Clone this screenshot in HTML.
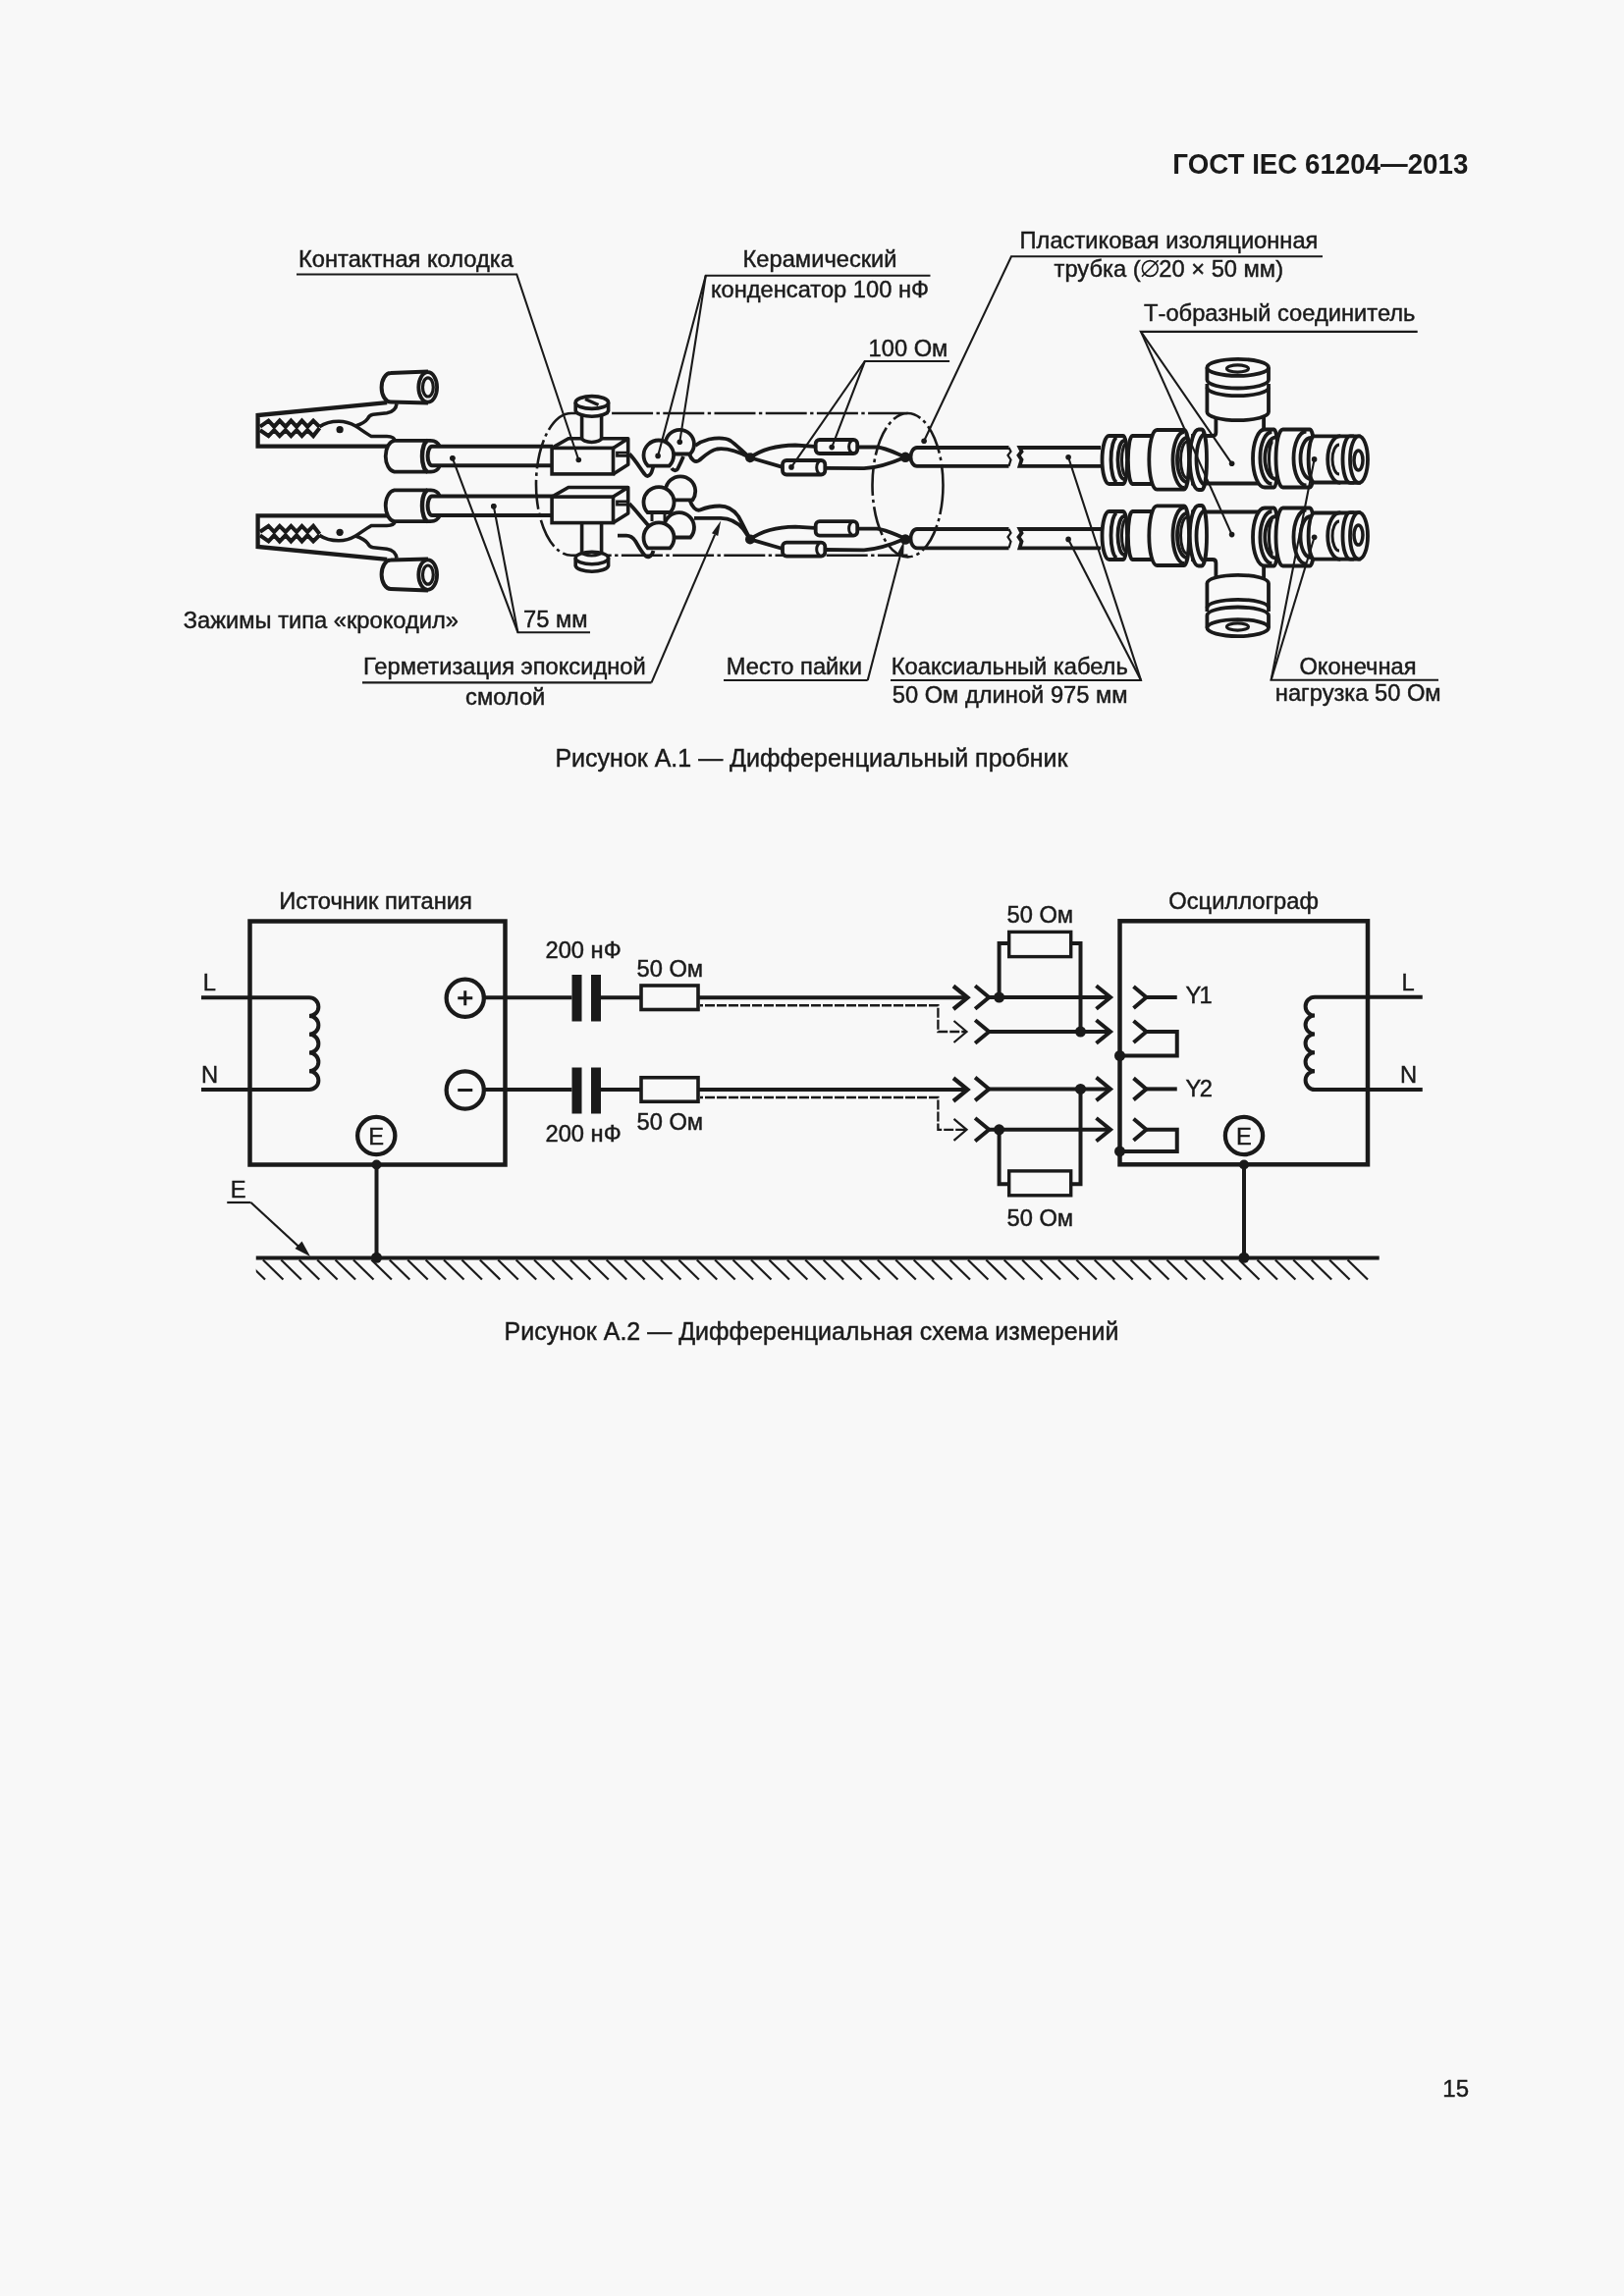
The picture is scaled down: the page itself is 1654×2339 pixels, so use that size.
<!DOCTYPE html>
<html><head><meta charset="utf-8"><style>
html,body{margin:0;padding:0;background:#f8f8f8;}
svg{display:block;}
text{font-family:"Liberation Sans",sans-serif;stroke:#1a1a1a;stroke-width:0.45px;}
svg{will-change:transform;}
</style></head><body>
<svg width="1654" height="2339" viewBox="0 0 1654 2339">
<rect width="1654" height="2339" fill="#f8f8f8"/>
<g fill="#1a1a1a" font-family="Liberation Sans">
<text transform="matrix(1 0 0 1.04 1495.3 176.6)" font-size="27.7" text-anchor="end" font-weight="bold" style="stroke:none">ГОСТ IEC 61204—2013</text>
<text transform="matrix(1 0 0 1.02 1496 2136)" font-size="24" text-anchor="end">15</text>
</g>
<g id="fig2" stroke="#1a1a1a" fill="none" stroke-linecap="butt"><rect x="254.5" y="938.5" width="260" height="248" stroke-width="4.5"/><rect x="1140.5" y="938.3" width="252.5" height="248" stroke-width="4.5"/><line x1="205" y1="1016.25" x2="315" y2="1016.25" stroke-width="4"/><line x1="205" y1="1110" x2="315" y2="1110" stroke-width="4"/><path d="M315,1016.25 A9.375,9.375 0 0 1 315,1035.00 A9.375,9.375 0 0 1 315,1053.75 A9.375,9.375 0 0 1 315,1072.50 A9.375,9.375 0 0 1 315,1091.25 A9.375,9.375 0 0 1 315,1110.00" stroke-width="4" fill="none"/><line x1="1339" y1="1015.75" x2="1448.75" y2="1015.75" stroke-width="4"/><line x1="1339" y1="1110" x2="1448.75" y2="1110" stroke-width="4"/><path d="M1339,1015.75 A9.425,9.425 0 0 0 1339,1034.60 A9.425,9.425 0 0 0 1339,1053.45 A9.425,9.425 0 0 0 1339,1072.30 A9.425,9.425 0 0 0 1339,1091.15 A9.425,9.425 0 0 0 1339,1110.00" stroke-width="4" fill="none"/><circle cx="473.75" cy="1016.75" r="19.1" stroke-width="4.3"/><circle cx="473.75" cy="1110.5" r="19.1" stroke-width="4.3"/><line x1="466.25" y1="1016.75" x2="481.25" y2="1016.75" stroke-width="3"/><line x1="473.75" y1="1009.25" x2="473.75" y2="1024.25" stroke-width="3"/><line x1="466.25" y1="1110.5" x2="481.25" y2="1110.5" stroke-width="3"/><circle cx="383.25" cy="1157" r="19.1" stroke-width="4.3"/><circle cx="1267" cy="1157" r="19.1" stroke-width="4.3"/><line x1="492.3" y1="1016.25" x2="582.5" y2="1016.25" stroke-width="4"/><rect x="582.5" y="993" width="10" height="47.5" fill="#1a1a1a" stroke="none"/><rect x="602" y="993" width="10" height="47.5" fill="#1a1a1a" stroke="none"/><line x1="612" y1="1016.25" x2="653" y2="1016.25" stroke-width="4"/><rect x="653" y="1004.0" width="58" height="24.5" stroke-width="3.6"/><line x1="711" y1="1016.25" x2="985" y2="1016.25" stroke-width="4"/><polyline points="971,1004.5 985.5,1016.25 971,1028.0" stroke-width="4.2" fill="none"/><polyline points="713,1024.25 955.4,1024.25 955.4,1051.0 983,1051.0" stroke-width="2.3" fill="none" stroke-dasharray="10,2" stroke-dashoffset="7"/><polyline points="971.5,1040.0 984.5,1051.0 971.5,1062.0" stroke-width="2.2" fill="none"/><line x1="492.3" y1="1110" x2="582.5" y2="1110" stroke-width="4"/><rect x="582.5" y="1087.5" width="10" height="47.0" fill="#1a1a1a" stroke="none"/><rect x="602" y="1087.5" width="10" height="47.0" fill="#1a1a1a" stroke="none"/><line x1="612" y1="1110" x2="653" y2="1110" stroke-width="4"/><rect x="653" y="1097.75" width="58" height="24.5" stroke-width="3.6"/><line x1="711" y1="1110" x2="985" y2="1110" stroke-width="4"/><polyline points="971,1098.25 985.5,1110 971,1121.75" stroke-width="4.2" fill="none"/><polyline points="713,1118 955.4,1118 955.4,1150.8 983,1150.8" stroke-width="2.3" fill="none" stroke-dasharray="10,2" stroke-dashoffset="7"/><polyline points="971.5,1139.8 984.5,1150.8 971.5,1161.8" stroke-width="2.2" fill="none"/><polyline points="993.1,1004.25 1007.3,1016.0 993.1,1027.75" stroke-width="4" fill="none"/><line x1="1007.3" y1="1016.0" x2="1130" y2="1016.0" stroke-width="4"/><polyline points="1116.5,1004.25 1131,1016.0 1116.5,1027.75" stroke-width="4" fill="none"/><polyline points="1154.5,1005.0 1167.5,1016.0 1154.5,1027.0" stroke-width="4" fill="none"/><polyline points="993.1,1039.25 1007.3,1051.0 993.1,1062.75" stroke-width="4" fill="none"/><line x1="1007.3" y1="1051.0" x2="1130" y2="1051.0" stroke-width="4"/><polyline points="1116.5,1039.25 1131,1051.0 1116.5,1062.75" stroke-width="4" fill="none"/><polyline points="1154.5,1040.0 1167.5,1051.0 1154.5,1062.0" stroke-width="4" fill="none"/><polyline points="993.1,1097.65 1007.3,1109.4 993.1,1121.15" stroke-width="4" fill="none"/><line x1="1007.3" y1="1109.4" x2="1130" y2="1109.4" stroke-width="4"/><polyline points="1116.5,1097.65 1131,1109.4 1116.5,1121.15" stroke-width="4" fill="none"/><polyline points="1154.5,1098.4 1167.5,1109.4 1154.5,1120.4" stroke-width="4" fill="none"/><polyline points="993.1,1139.05 1007.3,1150.8 993.1,1162.55" stroke-width="4" fill="none"/><line x1="1007.3" y1="1150.8" x2="1130" y2="1150.8" stroke-width="4"/><polyline points="1116.5,1139.05 1131,1150.8 1116.5,1162.55" stroke-width="4" fill="none"/><polyline points="1154.5,1139.8 1167.5,1150.8 1154.5,1161.8" stroke-width="4" fill="none"/><line x1="1167.5" y1="1016.0" x2="1198.75" y2="1016.0" stroke-width="4"/><line x1="1167.5" y1="1109.4" x2="1198.75" y2="1109.4" stroke-width="4"/><polyline points="1167.5,1051.0 1198.75,1051.0 1198.75,1075.5 1140.5,1075.5" stroke-width="4" fill="none"/><polyline points="1167.5,1150.8 1198.75,1150.8 1198.75,1172.9 1140.5,1172.9" stroke-width="4" fill="none"/><circle cx="1140.5" cy="1075.5" r="5.5" fill="#1a1a1a" stroke="none"/><circle cx="1140.5" cy="1172.9" r="5.5" fill="#1a1a1a" stroke="none"/><rect x="1027.7" y="949.4" width="63" height="25.2" stroke-width="3.4"/><rect x="1027.7" y="1192.9" width="63" height="24.9" stroke-width="3.4"/><polyline points="1017.6,1016.0 1017.6,960.9 1027.7,960.9" stroke-width="4" fill="none"/><polyline points="1090.7,960.9 1100.5,960.9 1100.5,1051.0" stroke-width="4" fill="none"/><polyline points="1100.5,1109.4 1100.5,1206.2 1090.7,1206.2" stroke-width="4" fill="none"/><polyline points="1027.7,1206.2 1017.6,1206.2 1017.6,1150.8" stroke-width="4" fill="none"/><circle cx="1017.6" cy="1016.0" r="5.5" fill="#1a1a1a" stroke="none"/><circle cx="1100.5" cy="1051.0" r="5.5" fill="#1a1a1a" stroke="none"/><circle cx="1100.5" cy="1109.4" r="5.5" fill="#1a1a1a" stroke="none"/><circle cx="1017.6" cy="1150.8" r="5.5" fill="#1a1a1a" stroke="none"/><line x1="383.5" y1="1186.5" x2="383.5" y2="1281.25" stroke-width="4"/><line x1="1267" y1="1186.5" x2="1267" y2="1281.25" stroke-width="4"/><circle cx="383.5" cy="1186.5" r="5" fill="#1a1a1a" stroke="none"/><circle cx="383.5" cy="1281.25" r="5.5" fill="#1a1a1a" stroke="none"/><circle cx="1267" cy="1186.5" r="5" fill="#1a1a1a" stroke="none"/><circle cx="1267" cy="1281.25" r="5.5" fill="#1a1a1a" stroke="none"/><line x1="260.75" y1="1281.6" x2="1404.7" y2="1281.6" stroke-width="4"/><clipPath id="hc"><rect x="260.75" y="1282" width="1150" height="25"/></clipPath><g clip-path="url(#hc)"><line x1="249.5" y1="1283.5" x2="270.0" y2="1303.5" stroke-width="2.2"/><line x1="267.91" y1="1283.5" x2="288.41" y2="1303.5" stroke-width="2.2"/><line x1="286.32" y1="1283.5" x2="306.82" y2="1303.5" stroke-width="2.2"/><line x1="304.73" y1="1283.5" x2="325.23" y2="1303.5" stroke-width="2.2"/><line x1="323.14" y1="1283.5" x2="343.64" y2="1303.5" stroke-width="2.2"/><line x1="341.55" y1="1283.5" x2="362.05" y2="1303.5" stroke-width="2.2"/><line x1="359.96" y1="1283.5" x2="380.46" y2="1303.5" stroke-width="2.2"/><line x1="378.37" y1="1283.5" x2="398.87" y2="1303.5" stroke-width="2.2"/><line x1="396.78" y1="1283.5" x2="417.28" y2="1303.5" stroke-width="2.2"/><line x1="415.19" y1="1283.5" x2="435.69" y2="1303.5" stroke-width="2.2"/><line x1="433.6" y1="1283.5" x2="454.1" y2="1303.5" stroke-width="2.2"/><line x1="452.01" y1="1283.5" x2="472.51" y2="1303.5" stroke-width="2.2"/><line x1="470.42" y1="1283.5" x2="490.92" y2="1303.5" stroke-width="2.2"/><line x1="488.83" y1="1283.5" x2="509.33" y2="1303.5" stroke-width="2.2"/><line x1="507.24" y1="1283.5" x2="527.74" y2="1303.5" stroke-width="2.2"/><line x1="525.65" y1="1283.5" x2="546.15" y2="1303.5" stroke-width="2.2"/><line x1="544.06" y1="1283.5" x2="564.56" y2="1303.5" stroke-width="2.2"/><line x1="562.47" y1="1283.5" x2="582.97" y2="1303.5" stroke-width="2.2"/><line x1="580.88" y1="1283.5" x2="601.38" y2="1303.5" stroke-width="2.2"/><line x1="599.29" y1="1283.5" x2="619.79" y2="1303.5" stroke-width="2.2"/><line x1="617.7" y1="1283.5" x2="638.2" y2="1303.5" stroke-width="2.2"/><line x1="636.11" y1="1283.5" x2="656.61" y2="1303.5" stroke-width="2.2"/><line x1="654.52" y1="1283.5" x2="675.02" y2="1303.5" stroke-width="2.2"/><line x1="672.93" y1="1283.5" x2="693.43" y2="1303.5" stroke-width="2.2"/><line x1="691.34" y1="1283.5" x2="711.84" y2="1303.5" stroke-width="2.2"/><line x1="709.75" y1="1283.5" x2="730.25" y2="1303.5" stroke-width="2.2"/><line x1="728.16" y1="1283.5" x2="748.66" y2="1303.5" stroke-width="2.2"/><line x1="746.57" y1="1283.5" x2="767.07" y2="1303.5" stroke-width="2.2"/><line x1="764.98" y1="1283.5" x2="785.48" y2="1303.5" stroke-width="2.2"/><line x1="783.39" y1="1283.5" x2="803.89" y2="1303.5" stroke-width="2.2"/><line x1="801.8" y1="1283.5" x2="822.3" y2="1303.5" stroke-width="2.2"/><line x1="820.21" y1="1283.5" x2="840.71" y2="1303.5" stroke-width="2.2"/><line x1="838.62" y1="1283.5" x2="859.12" y2="1303.5" stroke-width="2.2"/><line x1="857.03" y1="1283.5" x2="877.53" y2="1303.5" stroke-width="2.2"/><line x1="875.44" y1="1283.5" x2="895.94" y2="1303.5" stroke-width="2.2"/><line x1="893.85" y1="1283.5" x2="914.35" y2="1303.5" stroke-width="2.2"/><line x1="912.26" y1="1283.5" x2="932.76" y2="1303.5" stroke-width="2.2"/><line x1="930.67" y1="1283.5" x2="951.17" y2="1303.5" stroke-width="2.2"/><line x1="949.08" y1="1283.5" x2="969.58" y2="1303.5" stroke-width="2.2"/><line x1="967.49" y1="1283.5" x2="987.99" y2="1303.5" stroke-width="2.2"/><line x1="985.9" y1="1283.5" x2="1006.4" y2="1303.5" stroke-width="2.2"/><line x1="1004.31" y1="1283.5" x2="1024.81" y2="1303.5" stroke-width="2.2"/><line x1="1022.72" y1="1283.5" x2="1043.22" y2="1303.5" stroke-width="2.2"/><line x1="1041.13" y1="1283.5" x2="1061.63" y2="1303.5" stroke-width="2.2"/><line x1="1059.54" y1="1283.5" x2="1080.04" y2="1303.5" stroke-width="2.2"/><line x1="1077.95" y1="1283.5" x2="1098.45" y2="1303.5" stroke-width="2.2"/><line x1="1096.36" y1="1283.5" x2="1116.86" y2="1303.5" stroke-width="2.2"/><line x1="1114.77" y1="1283.5" x2="1135.27" y2="1303.5" stroke-width="2.2"/><line x1="1133.18" y1="1283.5" x2="1153.68" y2="1303.5" stroke-width="2.2"/><line x1="1151.59" y1="1283.5" x2="1172.09" y2="1303.5" stroke-width="2.2"/><line x1="1170.0" y1="1283.5" x2="1190.5" y2="1303.5" stroke-width="2.2"/><line x1="1188.41" y1="1283.5" x2="1208.91" y2="1303.5" stroke-width="2.2"/><line x1="1206.82" y1="1283.5" x2="1227.32" y2="1303.5" stroke-width="2.2"/><line x1="1225.23" y1="1283.5" x2="1245.73" y2="1303.5" stroke-width="2.2"/><line x1="1243.64" y1="1283.5" x2="1264.14" y2="1303.5" stroke-width="2.2"/><line x1="1262.05" y1="1283.5" x2="1282.55" y2="1303.5" stroke-width="2.2"/><line x1="1280.46" y1="1283.5" x2="1300.96" y2="1303.5" stroke-width="2.2"/><line x1="1298.87" y1="1283.5" x2="1319.37" y2="1303.5" stroke-width="2.2"/><line x1="1317.28" y1="1283.5" x2="1337.78" y2="1303.5" stroke-width="2.2"/><line x1="1335.69" y1="1283.5" x2="1356.19" y2="1303.5" stroke-width="2.2"/><line x1="1354.1" y1="1283.5" x2="1374.6" y2="1303.5" stroke-width="2.2"/><line x1="1372.51" y1="1283.5" x2="1393.01" y2="1303.5" stroke-width="2.2"/></g><line x1="231.25" y1="1225" x2="255.5" y2="1225" stroke-width="2.2"/><line x1="255.5" y1="1225" x2="306" y2="1271.5" stroke-width="2.2"/><path d="M316,1280 L300.5,1272 L307.5,1264.5 Z" fill="#1a1a1a" stroke="none"/></g><g fill="#1a1a1a" font-family="Liberation Sans"><text transform="matrix(1 0 0 1.02 284.3 926.25)" font-size="23.7">Источник питания</text><text transform="matrix(1 0 0 1.02 1190.3 926.25)" font-size="23.7">Осциллограф</text><text transform="matrix(1 0 0 1.02 206.8 1008.75)" font-size="23.7">L</text><text transform="matrix(1 0 0 1.02 205.0 1102.5)" font-size="23.7">N</text><text transform="matrix(1 0 0 1.02 1427.5 1008.75)" font-size="23.7">L</text><text transform="matrix(1 0 0 1.02 1426.0 1102.5)" font-size="23.7">N</text><text transform="matrix(1 0 0 1.02 555.5 975.75)" font-size="23.7">200 нФ</text><text transform="matrix(1 0 0 1.02 648.5 994.5)" font-size="23.7">50 Ом</text><text transform="matrix(1 0 0 1.02 648.5 1150.75)" font-size="23.7">50 Ом</text><text transform="matrix(1 0 0 1.02 555.5 1162.5)" font-size="23.7">200 нФ</text><text transform="matrix(1 0 0 1.02 1025.5 940.1)" font-size="23.7">50 Ом</text><text transform="matrix(1 0 0 1.02 1025.5 1249.2)" font-size="23.7">50 Ом</text><text transform="matrix(1 0 0 1.02 1207.5 1022)" font-size="23.7" letter-spacing="-1.8">Y1</text><text transform="matrix(1 0 0 1.02 1207.5 1117.3)" font-size="23.7" letter-spacing="-1.5">Y2</text><text transform="matrix(1 0 0 1.02 383.25 1165.5)" font-size="23.7" text-anchor="middle">E</text><text transform="matrix(1 0 0 1.02 1267 1165.5)" font-size="23.7" text-anchor="middle">E</text><text transform="matrix(1 0 0 1.02 234.8 1219.5)" font-size="23.7">E</text><text transform="matrix(1 0 0 1.02 513.5 1364.5)" font-size="25">Рисунок А.2 — Дифференциальная схема измерений</text></g><g stroke="#1a1a1a" fill="none">
<path d="M582,421.0 L924.5,421.0" stroke-width="2.6" stroke-dasharray="42,3.4,3.4,3.4" stroke-dashoffset="11.1" fill="none"/>
<path d="M582,565.8 L924.5,565.8" stroke-width="2.6" stroke-dasharray="42,3.4,3.4,3.4" stroke-dashoffset="1.3" fill="none"/>
<path d="M582,421.0 A36,72.39999999999998 0 0 0 582,565.8" stroke-width="2.6" stroke-dasharray="30,4,3.4,4" fill="none"/>
<ellipse cx="924.5" cy="494.2" rx="36" ry="73.19999999999997" stroke-width="2.6" stroke-dasharray="30,4,3.4,4" fill="none"/>
<path d="M394.2,410.2 L262.6,423 L262.6,454.6 L396,454.6" stroke-width="4.3" stroke-linejoin="miter" fill="none"/>
<polyline points="264.9,434.7 273.5,428.6 279.2,434.7 284.8,428.6 290.8,434.7 296.4,428.6 302.1,434.7 307.5,428.6 313.2,434.7 319.1,428.6 325.3,434.7" stroke-width="4.1" fill="none" stroke-linejoin="miter"/>
<polyline points="264.9,438.2 273.5,444.1 279.2,438.2 284.8,444.1 290.8,438.2 296.4,444.1 302.1,438.2 307.5,444.1 313.2,438.2 319.1,444.1 325.5,436" stroke-width="4.1" fill="none" stroke-linejoin="miter"/>
<path d="M325.3,434.7 C332,430 338,429.2 345,429.2 C352,429.2 357,431 362.1,434 C367,437 372,441 378.2,444.5 L394,444.5 C399,444.5 402,446.5 402.5,449.5" stroke-width="3.6" fill="none"/>

<path d="M362.1,434 C368,432 372,430 374.5,426.5 C376,423.5 377,422.6 380,422.3 L394,420.8 C400,420 403.5,416 404,411.2" stroke-width="3.6" fill="none"/>
<circle cx="346.1" cy="437.7" r="3.6" stroke="none" fill="#1a1a1a"/>
<path d="M436,378.4 L397.9,380 A9.3,14.7 0 0 0 397.9,409.4 L436,410.6" stroke-width="4" fill="none"/>
<ellipse cx="435.7" cy="394.4" rx="9.4" ry="15.2" stroke-width="3.8" fill="none"/>
<ellipse cx="435.9" cy="394.4" rx="5.4" ry="9.6" stroke-width="3.2" fill="none"/>
<path d="M439,448.8 L401.6,448.8 A10,16 0 0 0 401.6,480.6 L439,480.6" stroke-width="3.8" fill="none"/>
<path d="M439,448.8 C443,449 446,451 447.5,454 M447.5,475.5 C446,478.5 443,480.5 439,480.6" stroke-width="3.8" fill="none"/>
<path d="M435.5,449 A6,15.8 0 0 0 435.5,480.5" stroke-width="4.4" fill="none"/>
<g transform="translate(0,980) scale(1,-1)"><path d="M394.2,410.2 L262.6,423 L262.6,454.6 L396,454.6" stroke-width="4.3" stroke-linejoin="miter" fill="none"/>
<polyline points="264.9,434.7 273.5,428.6 279.2,434.7 284.8,428.6 290.8,434.7 296.4,428.6 302.1,434.7 307.5,428.6 313.2,434.7 319.1,428.6 325.3,434.7" stroke-width="4.1" fill="none" stroke-linejoin="miter"/>
<polyline points="264.9,438.2 273.5,444.1 279.2,438.2 284.8,444.1 290.8,438.2 296.4,444.1 302.1,438.2 307.5,444.1 313.2,438.2 319.1,444.1 325.5,436" stroke-width="4.1" fill="none" stroke-linejoin="miter"/>
<path d="M325.3,434.7 C332,430 338,429.2 345,429.2 C352,429.2 357,431 362.1,434 C367,437 372,441 378.2,444.5 L394,444.5 C399,444.5 402,446.5 402.5,449.5" stroke-width="3.6" fill="none"/>

<path d="M362.1,434 C368,432 372,430 374.5,426.5 C376,423.5 377,422.6 380,422.3 L394,420.8 C400,420 403.5,416 404,411.2" stroke-width="3.6" fill="none"/>
<circle cx="346.1" cy="437.7" r="3.6" stroke="none" fill="#1a1a1a"/>
<path d="M436,378.4 L397.9,380 A9.3,14.7 0 0 0 397.9,409.4 L436,410.6" stroke-width="4" fill="none"/>
<ellipse cx="435.7" cy="394.4" rx="9.4" ry="15.2" stroke-width="3.8" fill="none"/>
<ellipse cx="435.9" cy="394.4" rx="5.4" ry="9.6" stroke-width="3.2" fill="none"/>
<path d="M439,448.8 L401.6,448.8 A10,16 0 0 0 401.6,480.6 L439,480.6" stroke-width="3.8" fill="none"/>
<path d="M439,448.8 C443,449 446,451 447.5,454 M447.5,475.5 C446,478.5 443,480.5 439,480.6" stroke-width="3.8" fill="none"/>
<path d="M435.5,449 A6,15.8 0 0 0 435.5,480.5" stroke-width="4.4" fill="none"/></g>
<path d="M563,454.8 L440,454.8 A4.4,9.699999999999989 0 0 0 440,474.2 L563,474.2" stroke-width="4" fill="none"/>
<path d="M563,505.6 L440,505.6 A4.4,9.699999999999989 0 0 0 440,525.0 L563,525.0" stroke-width="4" fill="none"/>
<circle cx="460.9" cy="466.8" r="2.6" fill="#1a1a1a" stroke="none"/>
<circle cx="502.8" cy="515.7" r="2.6" fill="#1a1a1a" stroke="none"/>
<rect x="562.1" y="456.4" width="62.4" height="26.5" stroke-width="3.6" fill="#f8f8f8"/>
<path d="M562.1,456.4 L578.9,446.79999999999995 L639.7,446.79999999999995 L624.5,456.4 M639.7,446.79999999999995 L639.7,473.29999999999995 L624.5,482.9" stroke-width="3.6" fill="none" stroke-linejoin="round"/>
<path d="M639.7,461.2 L628.5,461.2 L628.5,464.4 L639.7,464.4" stroke-width="2.8" fill="none"/>
<rect x="562.1" y="506.09999999999997" width="62.4" height="26.500000000000057" stroke-width="3.6" fill="#f8f8f8"/>
<path d="M562.1,506.09999999999997 L578.9,496.49999999999994 L639.7,496.49999999999994 L624.5,506.09999999999997 M639.7,496.49999999999994 L639.7,523.0 L624.5,532.6" stroke-width="3.6" fill="none" stroke-linejoin="round"/>
<path d="M639.7,510.9 L628.5,510.9 L628.5,514.0999999999999 L639.7,514.0999999999999" stroke-width="2.8" fill="none"/>
<path d="M592.6,418 L592.6,446 A10,4.5 0 0 0 612.6,446 L612.6,418" stroke-width="3.6" fill="#f8f8f8"/>
<path d="M586.2,410 L586.2,418.5 A16.8,6.4 0 0 0 619.6,418.5 L619.6,410" stroke-width="3.6" fill="#f8f8f8"/>
<ellipse cx="602.9" cy="410" rx="16.7" ry="6.4" stroke-width="3.6" fill="#f8f8f8"/>
<path d="M596,406.5 L609.5,412.5" stroke-width="3.4"/>
<path d="M592.6,534 L592.6,565 M612.6,534 L612.6,565" stroke-width="3.6" fill="none"/>
<path d="M586.2,568.5 L586.2,576.5 A16.8,6.4 0 0 0 619.6,576.5 L619.6,568.5" stroke-width="3.6" fill="#f8f8f8"/>
<ellipse cx="602.9" cy="568.5" rx="16.7" ry="6.2" stroke-width="3.6" fill="#f8f8f8"/>
<path d="M592.6,562 A10,4 0 0 0 612.6,562" stroke-width="3.2" fill="none"/>
<path d="M641,462.5 C646,467 652,477 656.5,483 C659,486.5 663.5,486 665.5,474" stroke-width="3.8" fill="none"/>
<path d="M696,465 C694,470 692,474 690.5,477 C689,480 686,480 684,477" stroke-width="3.8" fill="none"/>
<path d="M708,454 C712,451 716,449 722,447.5 C730,446 738,445.5 744,449 C750,453 757,461 764,466.3" stroke-width="3.8" fill="none"/>
<path d="M702,462.5 C704,468 708,472 712,469 C717,465 723,459 730,457.5 C740,456 752,460 764,466.3" stroke-width="3.8" fill="none"/>
<path d="M641,513.2 C645,517 653,527 661,536" stroke-width="3.8" fill="none"/>
<path d="M629,545.6 L638,545.6 C642,545.6 645,548 647,551 C650,556 653,562 657,566 C659.5,568.5 663.5,568 665.5,561" stroke-width="3.8" fill="none"/>
<path d="M702.5,509.4 C704.5,516 709,521 713,519.5 C719,517 726,515.5 733,515.5 C741,515.5 747,519 752,526 C756,533 760,542 764,549.4" stroke-width="3.8" fill="none"/>
<path d="M707,527.8 L734,527.8 C745,528 752,533 757,539 C760,543 762,547 764,549.4" stroke-width="3.8" fill="none"/>
<path d="M681.76,462.5 A14.6,14.6 0 1 1 702.84,462.5 Z" stroke-width="3.8" fill="#f8f8f8"/>
<path d="M659.96,474.6 A15.3,15.3 0 1 1 681.64,474.6 Z" stroke-width="3.8" fill="#f8f8f8"/>
<path d="M680.68,509.4 A15.2,15.2 0 1 1 705.32,509.4 Z" stroke-width="3.8" fill="#f8f8f8"/>
<path d="M680.21,547.5 A15.3,15.3 0 1 1 703.19,547.5 Z" stroke-width="3.8" fill="#f8f8f8"/>
<path d="M659.51,522.0 A15.5,15.5 0 1 1 682.49,522.0 Z" stroke-width="3.8" fill="#f8f8f8"/>
<path d="M659.60,558.3 A15.5,15.5 0 1 1 682.40,558.3 Z" stroke-width="3.8" fill="#f8f8f8"/>
<path d="M664,522 L664,531 M677,522 L677,531" stroke-width="3" fill="none"/>
<path d="M764,466.3 C775,458.3 790,453.8 810,453.5 L830,454.8" stroke-width="3.8" fill="none"/>
<path d="M764,466.3 L797,475.90000000000003" stroke-width="3.8" fill="none"/>
<circle cx="764" cy="466.3" r="5" fill="#1a1a1a" stroke="none"/>
<path d="M873,455.5 L893,455.5 C903,456.2 912,461.7 922,465.7" stroke-width="3.8" fill="none"/>
<path d="M840,476.9 L880,477.2 C893,476.7 908,471.7 922,465.7" stroke-width="3.8" fill="none"/>
<path d="M764,549.4 C775,541.4 790,536.9 810,536.6 L830,537.9" stroke-width="3.8" fill="none"/>
<path d="M764,549.4 L797,559.0" stroke-width="3.8" fill="none"/>
<circle cx="764" cy="549.4" r="5" fill="#1a1a1a" stroke="none"/>
<path d="M873,538.5999999999999 L893,538.5999999999999 C903,539.3 912,544.8 922,548.8" stroke-width="3.8" fill="none"/>
<path d="M840,560.0 L880,560.3 C893,559.8 908,554.8 922,548.8" stroke-width="3.8" fill="none"/>
<rect x="830.7" y="448.0" width="42.5" height="14.0" rx="4" ry="4" stroke-width="3.8" fill="#f8f8f8"/>
<path d="M868.2,449.0 A3.6,6.0 0 0 0 868.2,461.0" stroke-width="3" fill="none"/>
<rect x="797.0" y="469.0" width="43.299999999999955" height="14.5" rx="4" ry="4" stroke-width="3.8" fill="#f8f8f8"/>
<path d="M835.3,470.0 A3.6,6.25 0 0 0 835.3,482.5" stroke-width="3" fill="none"/>
<rect x="830.7" y="531.1" width="42.5" height="14.600000000000023" rx="4" ry="4" stroke-width="3.8" fill="#f8f8f8"/>
<path d="M868.2,532.1 A3.6,6.300000000000011 0 0 0 868.2,544.7" stroke-width="3" fill="none"/>
<rect x="797.0" y="552.6" width="43.299999999999955" height="14.0" rx="4" ry="4" stroke-width="3.8" fill="#f8f8f8"/>
<path d="M835.3,553.6 A3.6,6.0 0 0 0 835.3,565.6" stroke-width="3" fill="none"/>
<circle cx="922.1" cy="465.7" r="5.2" fill="#1a1a1a" stroke="none"/>
<circle cx="922.1" cy="549.5" r="5.2" fill="#1a1a1a" stroke="none"/>
<path d="M1027.5,456.0 L934,456.0 A6.5,9.40 0 0 0 934,474.8 L1027.5,474.8" stroke-width="3.8" fill="none"/>
<path d="M1027.5,456.0 L1029.5,460.0 L1026.5,463.9 L1029.5,468.4 L1027.5,474.8" stroke-width="2.2" fill="none"/>
<path d="M1121,456.0 L1038.5,456.0 L1040.5,460.0 L1037.5,463.9 L1040.5,468.4 L1038.5,474.8 L1121,474.8" stroke-width="3.8" fill="none" stroke-linejoin="miter"/>
<path d="M1027.5,539.0 L934,539.0 A6.5,9.65 0 0 0 934,558.3 L1027.5,558.3" stroke-width="3.8" fill="none"/>
<path d="M1027.5,539.0 L1029.5,543.0 L1026.5,547.15 L1029.5,551.65 L1027.5,558.3" stroke-width="2.2" fill="none"/>
<path d="M1121,539.0 L1038.5,539.0 L1040.5,543.0 L1037.5,547.15 L1040.5,551.65 L1038.5,558.3 L1121,558.3" stroke-width="3.8" fill="none" stroke-linejoin="miter"/>
<path d="M1215,444 L1235,444 Q1238.4,444 1238.4,440.5 L1238.4,420 L1287.1,420 L1287.1,440 L1292,440 L1292,492.5 L1215,492.5 Z" stroke-width="3.8" fill="#f8f8f8"/>
<path d="M1229.4,391 L1229.4,419.7 A31.3,8.5 0 0 0 1292,419.7 L1292,391" stroke-width="3.8" fill="#f8f8f8"/>
<path d="M1229.4,394.7 A31.3,8.5 0 0 0 1292,394.7" stroke-width="3.8" fill="none"/>
<path d="M1229.4,374.4 L1229.4,387 A31.3,8.5 0 0 0 1292,387 L1292,374.4" stroke-width="3.8" fill="#f8f8f8"/>
<ellipse cx="1260.7" cy="374.4" rx="31.3" ry="8.5" stroke-width="3.8" fill="#f8f8f8"/>
<ellipse cx="1260.5" cy="375.5" rx="11" ry="3.6" stroke-width="3.2" fill="none"/>
<path d="M1129.5,444 L1144,444 A4,24.5 0 0 1 1144,493 L1129.5,493 A7,24.5 0 0 1 1129.5,444 Z" stroke-width="3.8" fill="#f8f8f8"/>
<path d="M1137.7,491 A6.2,22.5 0 0 1 1137.7,446" stroke-width="3.8" fill="none"/>
<path d="M1145,488 A6.5,19.5 0 0 1 1145,449" stroke-width="3.8" fill="none"/>
<path d="M1147,485 A4.5,16.5 0 0 1 1147,452" stroke-width="3" fill="none"/>
<path d="M1153.4,444 L1178,444 L1178,493 L1153.4,493 A4.5,24.5 0 0 1 1153.4,444 Z" stroke-width="3.8" fill="#f8f8f8"/>
<path d="M1178.3,438 L1206,438 A5,30.30000000000001 0 0 1 1206,498.6 L1178.3,498.6 A8,30.30000000000001 0 0 1 1178.3,438 Z" stroke-width="3.8" fill="#f8f8f8"/>
<path d="M1206,497 A11.5,28.5 0 0 1 1206,440" stroke-width="3.8" fill="none"/>
<path d="M1209,491 A10,22.5 0 0 1 1209,446" stroke-width="3.8" fill="none"/>
<path d="M1209,487 A6.5,18.5 0 0 1 1209,450" stroke-width="3" fill="none"/>
<path d="M1220.8,437.5 L1224,437.5 A5,30.75 0 0 1 1224,499 L1220.8,499 A9,30.75 0 0 1 1220.8,437.5 Z" stroke-width="3.8" fill="#f8f8f8"/>
<path d="M1228,494 A9.5,26.0 0 0 1 1228,442" stroke-width="3.8" fill="none"/>
<path d="M1288,437.5 L1297.6,437.5 A4,29.5 0 0 1 1297.6,496.5 L1288,496.5 A12,29.5 0 0 1 1288,437.5 Z" stroke-width="3.8" fill="#f8f8f8"/>
<path d="M1295.4,493 A12,26.5 0 0 1 1295.4,440" stroke-width="3.8" fill="none"/>
<path d="M1299.8,488 A11.5,21.349999999999994 0 0 1 1299.8,445.3" stroke-width="3.8" fill="none"/>
<path d="M1296.5,485 A4,17.5 0 0 1 1296.5,450" stroke-width="3" fill="none"/>
<path d="M1306.5,437.5 L1334.2,437.5 A4.5,29.5 0 0 1 1334.2,496.5 L1306.5,496.5 A7,29.5 0 0 1 1306.5,437.5 Z" stroke-width="3.8" fill="#f8f8f8"/>
<path d="M1330.5,494.5 A13,27.5 0 0 1 1330.5,439.5" stroke-width="3.8" fill="none"/>
<path d="M1335,488 A10.5,21.0 0 0 1 1335,446" stroke-width="3.8" fill="none"/>
<path d="M1338.6,444.4 L1377,444.4 L1377,491.5 L1338.6,491.5 A6,23.55000000000001 0 0 1 1338.6,444.4 Z" stroke-width="3.8" fill="#f8f8f8"/>
<path d="M1365.2,491.9 A13,23.849999999999994 0 0 1 1365.2,444.2" stroke-width="3.8" fill="none"/>
<path d="M1364,483 A7,15.0 0 0 1 1364,453" stroke-width="3" fill="none"/>
<path d="M1375,444.4 L1384,444.4 L1384,491.8 L1375,491.8 A7.5,23.700000000000017 0 0 1 1375,444.4 Z" stroke-width="3.8" fill="#f8f8f8"/>
<ellipse cx="1384" cy="468.1" rx="9" ry="23.7" stroke-width="3.8" fill="#f8f8f8"/>
<ellipse cx="1383.5" cy="468.9" rx="4.5" ry="10" stroke-width="3.5" fill="none"/>
<g transform="translate(0,1014) scale(1,-1)"><path d="M1215,444 L1235,444 Q1238.4,444 1238.4,440.5 L1238.4,420 L1287.1,420 L1287.1,440 L1292,440 L1292,492.5 L1215,492.5 Z" stroke-width="3.8" fill="#f8f8f8"/>
<path d="M1229.4,391 L1229.4,419.7 A31.3,8.5 0 0 0 1292,419.7 L1292,391" stroke-width="3.8" fill="#f8f8f8"/>
<path d="M1229.4,394.7 A31.3,8.5 0 0 0 1292,394.7" stroke-width="3.8" fill="none"/>
<path d="M1229.4,374.4 L1229.4,387 A31.3,8.5 0 0 0 1292,387 L1292,374.4" stroke-width="3.8" fill="#f8f8f8"/>
<ellipse cx="1260.7" cy="374.4" rx="31.3" ry="8.5" stroke-width="3.8" fill="#f8f8f8"/>
<ellipse cx="1260.5" cy="375.5" rx="11" ry="3.6" stroke-width="3.2" fill="none"/>
<path d="M1129.5,444 L1144,444 A4,24.5 0 0 1 1144,493 L1129.5,493 A7,24.5 0 0 1 1129.5,444 Z" stroke-width="3.8" fill="#f8f8f8"/>
<path d="M1137.7,491 A6.2,22.5 0 0 1 1137.7,446" stroke-width="3.8" fill="none"/>
<path d="M1145,488 A6.5,19.5 0 0 1 1145,449" stroke-width="3.8" fill="none"/>
<path d="M1147,485 A4.5,16.5 0 0 1 1147,452" stroke-width="3" fill="none"/>
<path d="M1153.4,444 L1178,444 L1178,493 L1153.4,493 A4.5,24.5 0 0 1 1153.4,444 Z" stroke-width="3.8" fill="#f8f8f8"/>
<path d="M1178.3,438 L1206,438 A5,30.30000000000001 0 0 1 1206,498.6 L1178.3,498.6 A8,30.30000000000001 0 0 1 1178.3,438 Z" stroke-width="3.8" fill="#f8f8f8"/>
<path d="M1206,497 A11.5,28.5 0 0 1 1206,440" stroke-width="3.8" fill="none"/>
<path d="M1209,491 A10,22.5 0 0 1 1209,446" stroke-width="3.8" fill="none"/>
<path d="M1209,487 A6.5,18.5 0 0 1 1209,450" stroke-width="3" fill="none"/>
<path d="M1220.8,437.5 L1224,437.5 A5,30.75 0 0 1 1224,499 L1220.8,499 A9,30.75 0 0 1 1220.8,437.5 Z" stroke-width="3.8" fill="#f8f8f8"/>
<path d="M1228,494 A9.5,26.0 0 0 1 1228,442" stroke-width="3.8" fill="none"/>
<path d="M1288,437.5 L1297.6,437.5 A4,29.5 0 0 1 1297.6,496.5 L1288,496.5 A12,29.5 0 0 1 1288,437.5 Z" stroke-width="3.8" fill="#f8f8f8"/>
<path d="M1295.4,493 A12,26.5 0 0 1 1295.4,440" stroke-width="3.8" fill="none"/>
<path d="M1299.8,488 A11.5,21.349999999999994 0 0 1 1299.8,445.3" stroke-width="3.8" fill="none"/>
<path d="M1296.5,485 A4,17.5 0 0 1 1296.5,450" stroke-width="3" fill="none"/>
<path d="M1306.5,437.5 L1334.2,437.5 A4.5,29.5 0 0 1 1334.2,496.5 L1306.5,496.5 A7,29.5 0 0 1 1306.5,437.5 Z" stroke-width="3.8" fill="#f8f8f8"/>
<path d="M1330.5,494.5 A13,27.5 0 0 1 1330.5,439.5" stroke-width="3.8" fill="none"/>
<path d="M1335,488 A10.5,21.0 0 0 1 1335,446" stroke-width="3.8" fill="none"/>
<path d="M1338.6,444.4 L1377,444.4 L1377,491.5 L1338.6,491.5 A6,23.55000000000001 0 0 1 1338.6,444.4 Z" stroke-width="3.8" fill="#f8f8f8"/>
<path d="M1365.2,491.9 A13,23.849999999999994 0 0 1 1365.2,444.2" stroke-width="3.8" fill="none"/>
<path d="M1364,483 A7,15.0 0 0 1 1364,453" stroke-width="3" fill="none"/>
<path d="M1375,444.4 L1384,444.4 L1384,491.8 L1375,491.8 A7.5,23.700000000000017 0 0 1 1375,444.4 Z" stroke-width="3.8" fill="#f8f8f8"/>
<ellipse cx="1384" cy="468.1" rx="9" ry="23.7" stroke-width="3.8" fill="#f8f8f8"/>
<ellipse cx="1383.5" cy="468.9" rx="4.5" ry="10" stroke-width="3.5" fill="none"/></g>
</g><g fill="#1a1a1a" font-family="Liberation Sans">
<text transform="matrix(1 0 0 1.02 304.06 272)" font-size="23.7">Контактная колодка</text>
<text transform="matrix(1 0 0 1.02 756.56 272)" font-size="23.7">Керамический</text>
<text transform="matrix(1 0 0 1.02 723.90 302.5)" font-size="23.7">конденсатор 100 нФ</text>
<text transform="matrix(1 0 0 1.02 1038.58 253.25)" font-size="23.7">Пластиковая изоляционная</text>
<text transform="matrix(1 0 0 1.02 1073.59 282)" font-size="23.7">трубка (</text>
<text transform="matrix(1 0 0 1.02 1180.31 282)" font-size="23.7">20 × 50 мм)</text>
<text transform="matrix(1 0 0 1.02 1165.07 327.3)" font-size="23.7">Т-образный соединитель</text>
<text transform="matrix(1 0 0 1.02 884.59 363)" font-size="23.7">100 Ом</text>
<text transform="matrix(1 0 0 1.02 186.72 640)" font-size="23.7">Зажимы типа «крокодил»</text>
<text transform="matrix(1 0 0 1.02 533.08 639.4)" font-size="23.7">75 мм</text>
<text transform="matrix(1 0 0 1.02 370.06 687)" font-size="23.7">Герметизация эпоксидной</text>
<text transform="matrix(1 0 0 1.02 474.09 717.8)" font-size="23.7">смолой</text>
<text transform="matrix(1 0 0 1.02 739.76 686.7)" font-size="23.7">Место пайки</text>
<text transform="matrix(1 0 0 1.02 907.76 686.7)" font-size="23.7">Коаксиальный кабель</text>
<text transform="matrix(1 0 0 1.02 908.75 716)" font-size="23.7">50 Ом длиной 975 мм</text>
<text transform="matrix(1 0 0 1.02 1323.38 687.4)" font-size="23.7">Оконечная</text>
<text transform="matrix(1 0 0 1.02 1298.86 713.8)" font-size="23.7">нагрузка 50 Ом</text>
<text transform="matrix(1 0 0 1.02 565.45 780.7)" font-size="25">Рисунок А.1 — Дифференциальный пробник</text>
</g>
<g stroke="#1a1a1a" fill="none">
<circle cx="1171.3" cy="273.5" r="7.9" stroke-width="1.6"/>
<line x1="1163" y1="281.8" x2="1179.6" y2="265.2" stroke-width="1.6"/>
<polyline points="302,279.5 526.25,279.5 589.3,468.5" stroke-width="2.1" fill="none"/>
<circle cx="589.3" cy="468.5" r="2.8" fill="#1a1a1a" stroke="none"/>
<polyline points="947.5,280.75 718.75,280.75 670.1,464.4" stroke-width="2.1" fill="none"/>
<polyline points="718.75,280.75 692.3,450.2" stroke-width="2.1" fill="none"/>
<circle cx="670.1" cy="464.4" r="2.8" fill="#1a1a1a" stroke="none"/>
<circle cx="692.3" cy="450.2" r="2.8" fill="#1a1a1a" stroke="none"/>
<polyline points="967.1,368 880.8,368 847.2,455.6" stroke-width="2.1" fill="none"/>
<polyline points="880.8,368 806,475.9" stroke-width="2.1" fill="none"/>
<circle cx="847.2" cy="455.6" r="2.8" fill="#1a1a1a" stroke="none"/>
<circle cx="806" cy="475.9" r="2.8" fill="#1a1a1a" stroke="none"/>
<polyline points="1347,261.25 1030,261.25 941.1,449.2" stroke-width="2.1" fill="none"/>
<circle cx="941.1" cy="449.2" r="2.8" fill="#1a1a1a" stroke="none"/>
<polyline points="1443.7,337.9 1162,337.9 1254.6,472.3" stroke-width="2.1" fill="none"/>
<polyline points="1162,337.9 1254.6,544.6" stroke-width="2.1" fill="none"/>
<circle cx="1254.6" cy="472.3" r="2.8" fill="#1a1a1a" stroke="none"/>
<circle cx="1254.6" cy="544.6" r="2.8" fill="#1a1a1a" stroke="none"/>
<polyline points="601,644.2 527.4,644.2 460.9,466.8" stroke-width="2.1" fill="none"/>
<polyline points="527.4,644.2 502.8,515.7" stroke-width="2.1" fill="none"/>
<circle cx="460.9" cy="466.8" r="2.8" fill="#1a1a1a" stroke="none"/>
<circle cx="502.8" cy="515.7" r="2.8" fill="#1a1a1a" stroke="none"/>
<polyline points="907,693 1162,693 1088.1,465.7" stroke-width="2.1" fill="none"/>
<polyline points="1162,693 1088.1,549.4" stroke-width="2.1" fill="none"/>
<circle cx="1088.1" cy="465.7" r="2.8" fill="#1a1a1a" stroke="none"/>
<circle cx="1088.1" cy="549.4" r="2.8" fill="#1a1a1a" stroke="none"/>
<polyline points="1465,692.8 1294.6,692.8 1338.6,467.9" stroke-width="2.1" fill="none"/>
<polyline points="1294.6,692.8 1338.6,547.3" stroke-width="2.1" fill="none"/>
<circle cx="1338.6" cy="467.9" r="2.8" fill="#1a1a1a" stroke="none"/>
<circle cx="1338.6" cy="547.3" r="2.8" fill="#1a1a1a" stroke="none"/>
<polyline points="369,695.4 663.5,695.4" stroke-width="2.1" fill="none"/>
<line x1="663.5" y1="695.4" x2="728.10" y2="544.65" stroke-width="2.1"/>
<path d="M734.2,530.4 L731.22,545.99 L724.97,543.31 Z" fill="#1a1a1a" stroke="none"/>
<polyline points="737,693 883.7,693" stroke-width="2.1" fill="none"/>
<line x1="883.7" y1="693" x2="916.89" y2="565.70" stroke-width="2.1"/>
<path d="M920.8,550.7 L920.18,566.56 L913.60,564.84 Z" fill="#1a1a1a" stroke="none"/>
</g>
</svg>
</body></html>
